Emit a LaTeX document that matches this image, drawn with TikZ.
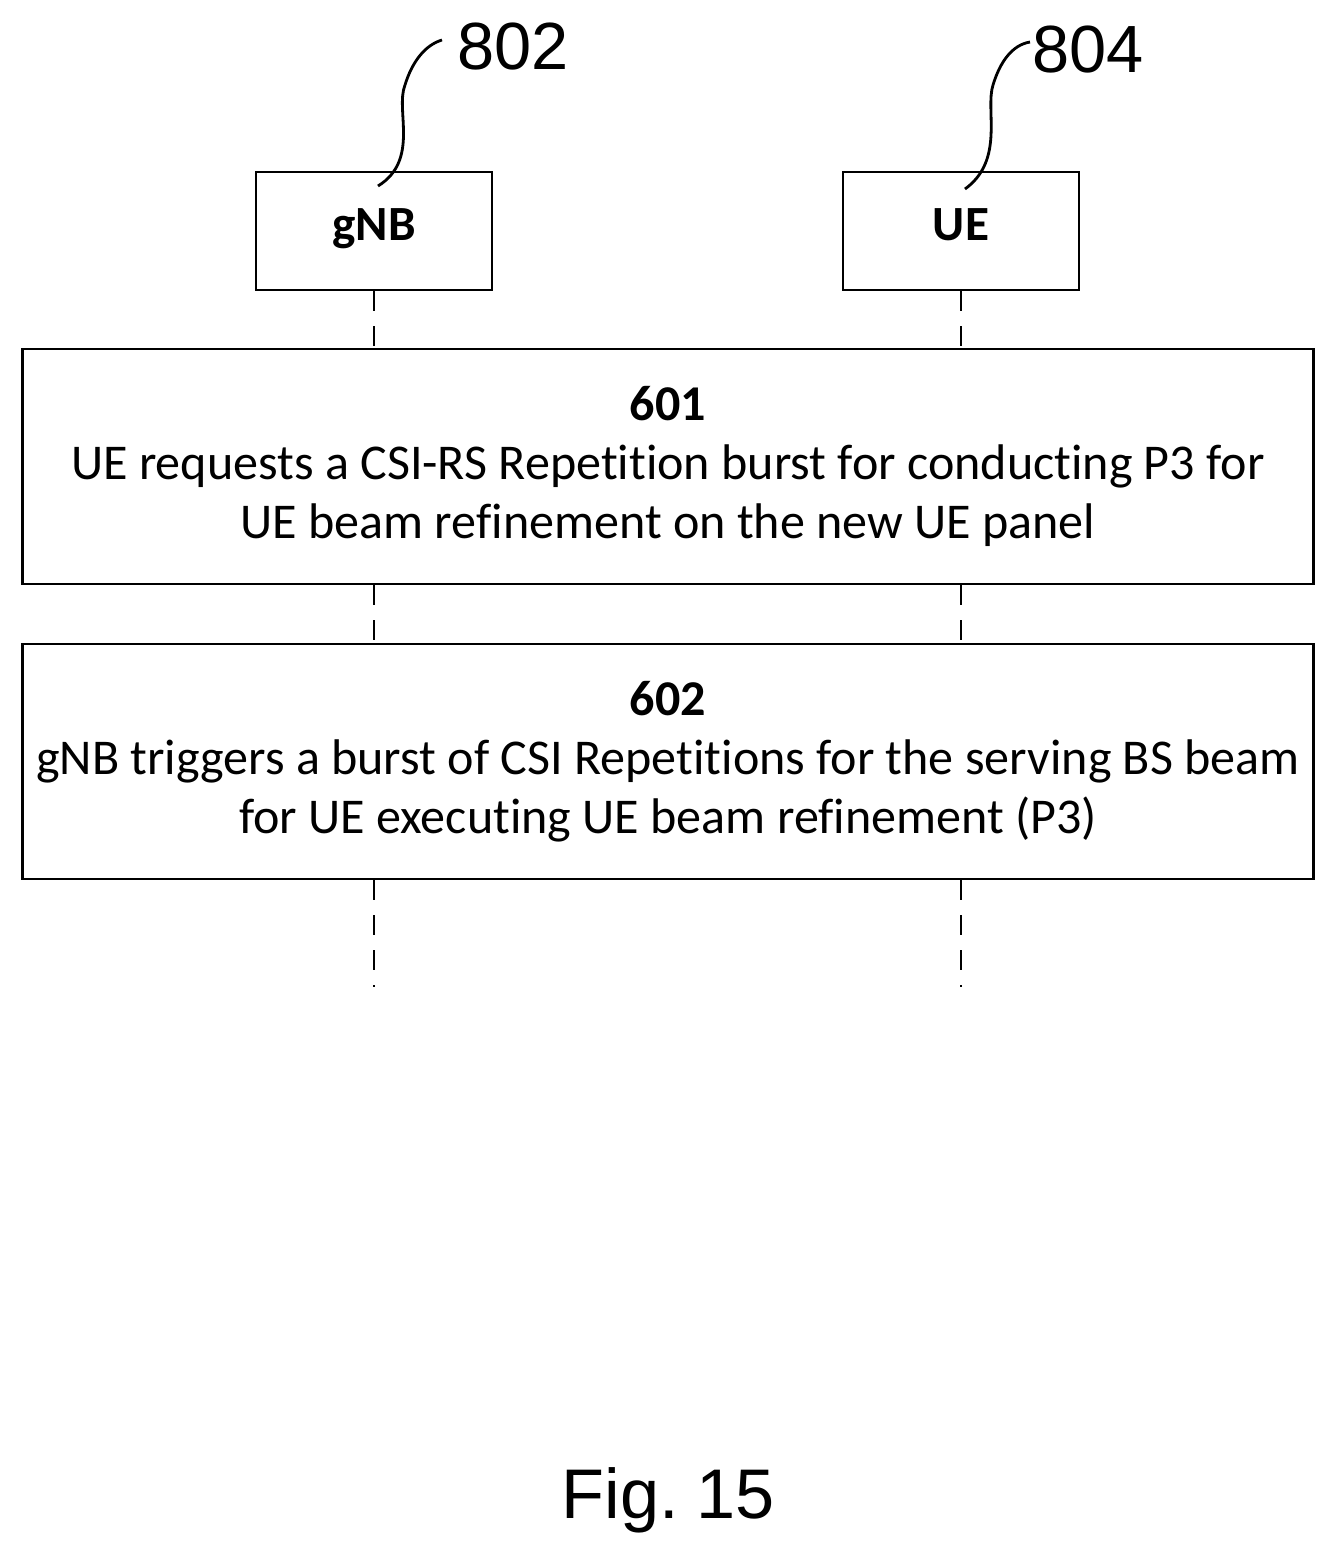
\documentclass[tikz,border=0pt]{standalone}
\usepackage{fontspec}
\setmainfont{Carlito}[RawFeature=-liga]
\newfontfamily\labelfont{Liberation Sans}
\usetikzlibrary{positioning}
\begin{document}
\begin{tikzpicture}[x=0.02cm,y=-0.02cm,
    entity/.style={rectangle, draw, line width=1.6pt, minimum width=4.72cm, minimum height=2.36cm, text height=0.5cm, text depth=0.12cm, font=\fontsize{28}{32}\selectfont\bfseries},
    action/.style={rectangle, draw, line width=1.6pt, minimum width=25.84cm, minimum height=4.7cm, align=center, font=\fontsize{28.5}{33.5}\selectfont},
    life/.style={line width=1.2pt, dash pattern=on 0.4cm off 0.3cm},
    ref/.style={font=\labelfont\fontsize{38}{40}\selectfont},
    lead/.style={line width=1.6pt}
]
\useasboundingbox (0,0) rectangle (1336,1559);

\node [entity] (gNB) at (374,231) {gNB};
\node [entity] (UE) at (961,231) {UE};

\node [action] (s601) at (668,466.5) {\textbf{601}\\UE requests a CSI-RS Repetition burst for conducting P3 for\\UE beam refinement on the new UE panel};
\node [action] (s602) at (668,761.5) {\textbf{602}\\gNB triggers a burst of CSI Repetitions for the serving BS beam\\for UE executing UE beam refinement (P3)};

% lifelines
\draw [life] (gNB.south) -- (gNB.south |- s601.north);
\draw [life] (UE.south) -- (UE.south |- s601.north);
\draw [life] (gNB.south |- s601.south) -- (gNB.south |- s602.north);
\draw [life] (UE.south |- s601.south) -- (UE.south |- s602.north);
\coordinate (gEnd) at (374,987);
\coordinate (uEnd) at (961,987);
\draw [life] (gNB.south |- s602.south) -- (gEnd);
\draw [life] (UE.south |- s602.south) -- (uEnd);

% reference numerals
\node [ref] (n802) at (513,47) {802};
\node [ref] (n804) at (1088,50) {804};
\coordinate (g0) at (378,186);
\coordinate (u0) at (965,189);
\draw [lead] (g0) .. controls (420,160) and (395,110) .. (405,85) .. controls (412,62) and (425,45) .. (442,40);
\draw [lead] (u0) .. controls (1005,160) and (985,110) .. (993,85) .. controls (1000,62) and (1012,45) .. (1030,42);

\node [font=\labelfont\fontsize{40}{44}\selectfont] (fig) at (668,1500) {Fig.\hspace{0.25em}15};
\end{tikzpicture}
\end{document}
